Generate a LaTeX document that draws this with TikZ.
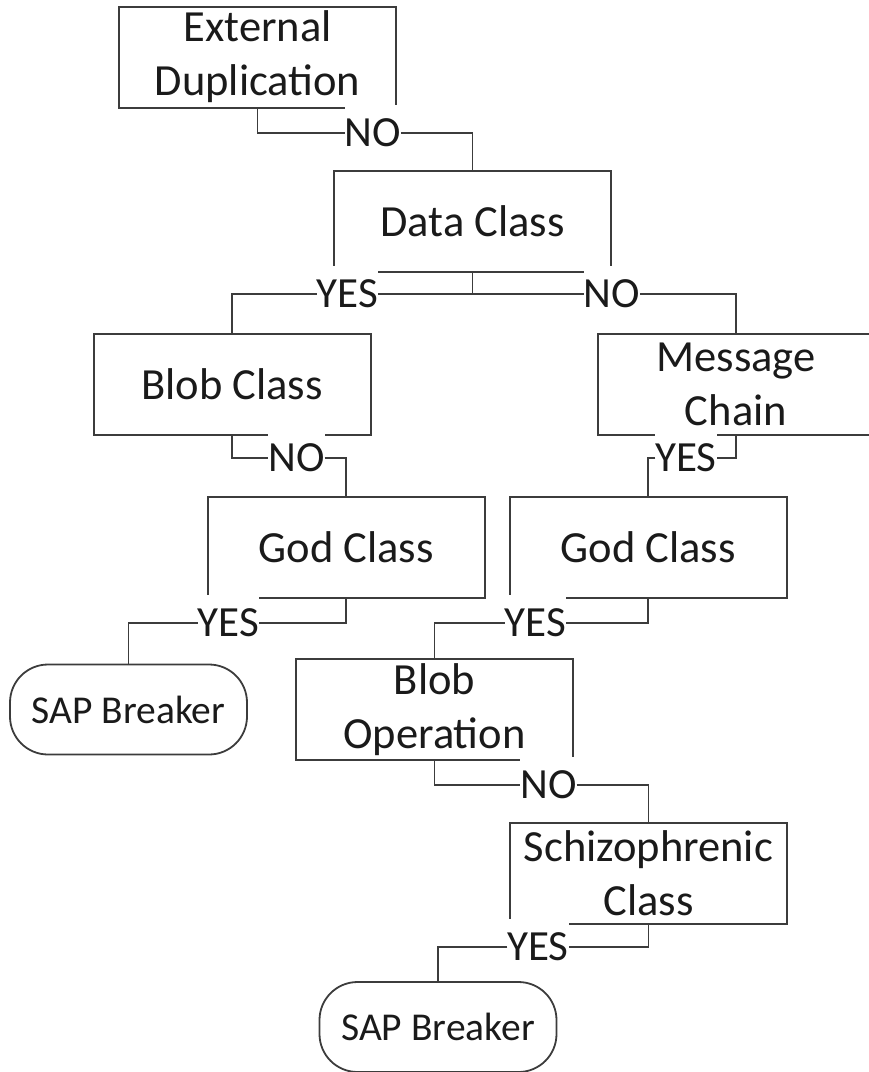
\documentclass[tikz,border=0pt]{standalone}
\usepackage{fontspec}
\setmainfont{Carlito}
\definecolor{ink}{HTML}{1A1A1A}
\definecolor{edge}{HTML}{3C3C3C}
\begin{document}
\begin{tikzpicture}[x=1pt,y=-1pt,
  every node/.style={text=ink},
  box/.style={draw=edge, line width=2pt, minimum width=277pt, minimum height=101pt,
    inner sep=0pt, outer sep=0pt, align=center, font=\fontsize{44.5}{54}\selectfont},
  terminal/.style={draw=edge, line width=1.8pt, rounded corners=38pt,
    minimum width=237pt, minimum height=90pt, inner sep=0pt, outer sep=0pt,
    font=\fontsize{39.5}{48}\selectfont},
  lbl/.style={fill=white, inner xsep=0pt, inner ysep=0pt, minimum height=56pt, outer sep=0pt,
    font=\fontsize{43}{52}\selectfont},
  link/.style={draw=edge, line width=1.6pt}]
\useasboundingbox (0,0) rectangle (869,1072);

% decision boxes and end points
\node[box] (ed)   at (257.5,57)   {External\\Duplication};
\node[box] (dc)   at (472.5,221)  {Data Class};
\node[box] (blob) at (232,384)    {Blob Class};
\node[box] (mc)   at (736,384)    {Message\\Chain};
\node[box] (godl) at (346,547)    {God Class};
\node[box] (godr) at (648,547)    {God Class};
\node[box] (bop)  at (434.5,709.5){Blob\\Operation};
\node[box] (sch)  at (648.5,873)  {Schizophrenic\\Class};
\node[terminal] (sap1) at (128.5,709.5) {SAP Breaker};
\node[terminal] (sap2) at (438,1027)    {SAP Breaker};

% branch labels (white background sits over the box edges)
\node[lbl] (l1) at (373,133)   {NO};
\node[lbl] (l2) at (347.5,294) {YES};
\node[lbl] (l3) at (612,294)   {NO};
\node[lbl] (l4) at (296.5,458) {NO};
\node[lbl] (l5) at (686,458)   {YES};
\node[lbl] (l6) at (228.5,623) {YES};
\node[lbl] (l7) at (535.5,623) {YES};
\node[lbl] (l8) at (548.5,785) {NO};
\node[lbl] (l9) at (538,947)   {YES};

% connectors
\draw[link] (ed.south) |- (l1.west);
\draw[link] (l1.east) -| (dc.north);
\draw[link] (dc.south) |- (l2.east);
\draw[link] (l2.west) -| (blob.north);
\draw[link] (dc.south) |- (l3.west);
\draw[link] (l3.east) -| (mc.north);
\draw[link] (blob.south) |- (l4.west);
\draw[link] (l4.east) -| (godl.north);
\draw[link] (mc.south) |- (l5.east);
\draw[link] (l5.west) -| (godr.north);
\draw[link] (godl.south) |- (l6.east);
\draw[link] (l6.west) -| (sap1.north);
\draw[link] (godr.south) |- (l7.east);
\draw[link] (l7.west) -| (bop.north);
\draw[link] (bop.south) |- (l8.west);
\draw[link] (l8.east) -| (sch.north);
\draw[link] (sch.south) |- (l9.east);
\draw[link] (l9.west) -| (sap2.north);
\end{tikzpicture}
\end{document}
